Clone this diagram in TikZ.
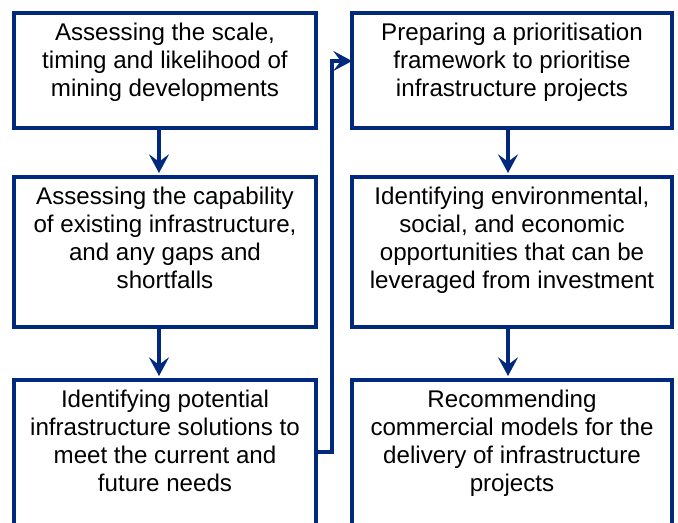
\documentclass[tikz,border=0pt]{standalone}
\usepackage{fontspec}
\setmainfont{Liberation Sans}
\usetikzlibrary{arrows.meta,calc}
\definecolor{navy}{RGB}{0,40,125}
\begin{document}
\begin{tikzpicture}[x=0.75pt,y=-0.75pt,
  box/.style={draw=navy, line width=2.4pt, fill=white, inner sep=0pt, outer sep=0pt},
  txt/.style={anchor=north, inner sep=0pt, align=center, text=black,
    font=\fontsize{18.1pt}{20.8pt}\selectfont},
  arr/.style={draw=navy, line width=3.5pt,
    -{Stealth[length=14pt,width=15pt,inset=5.5pt]}}]
\useasboundingbox (0,0) rectangle (678,522);
\clip (0,0) rectangle (678,522);
% boxes
\node[box, minimum width=226.5pt, minimum height=86.25pt] (L1) at (165,70.5) {};
\node[box, minimum width=226.5pt, minimum height=112.5pt] (L2) at (165,252) {};
\node[box, minimum width=226.5pt, minimum height=135pt] (L3) at (165,470) {};
\node[box, minimum width=240pt, minimum height=86.25pt] (R1) at (512,70.5) {};
\node[box, minimum width=240pt, minimum height=112.5pt] (R2) at (512,252) {};
\node[box, minimum width=240pt, minimum height=135pt] (R3) at (512,470) {};
% texts
\node[txt] (tL1) at ($(L1.north)+(0,8.3)$) {\strut Assessing the scale,\\timing and likelihood of\\mining developments};
\node[txt] (tL2) at ($(L2.north)+(0,8.3)$) {\strut Assessing the capability\\of existing infrastructure,\\and any gaps and\\shortfalls};
\node[txt] (tL3) at ($(L3.north)+(0,8.3)$) {\strut Identifying potential\\infrastructure solutions to\\meet the current and\\future needs};
\node[txt] (tR1) at ($(R1.north)+(0,8.3)$) {\strut Preparing a prioritisation\\framework to prioritise\\infrastructure projects};
\node[txt] (tR2) at ($(R2.north)+(0,8.3)$) {\strut Identifying environmental,\\social, and economic\\opportunities that can be\\leveraged from investment};
\node[txt] (tR3) at ($(R3.north)+(0,8.3)$) {\strut Recommending\\commercial models for the\\delivery of infrastructure\\projects};
% connectors
\draw[arr] ([xshift=-4.5pt]L1.south) -- ([xshift=-4.5pt,yshift=3pt]L2.north);
\draw[arr] ([xshift=-4.5pt]L2.south) -- ([xshift=-4.5pt,yshift=3pt]L3.north);
\draw[arr] ([xshift=-3pt]R1.south) -- ([xshift=-3pt,yshift=3pt]R2.north);
\draw[arr] ([xshift=-3pt]R2.south) -- ([xshift=-3pt,yshift=3pt]R3.north);
\draw[arr] ($(L3.north east)+(0,72)$) -- ++(16,0) |- ($(R1.north west)+(0,48)$);
\end{tikzpicture}
\end{document}
